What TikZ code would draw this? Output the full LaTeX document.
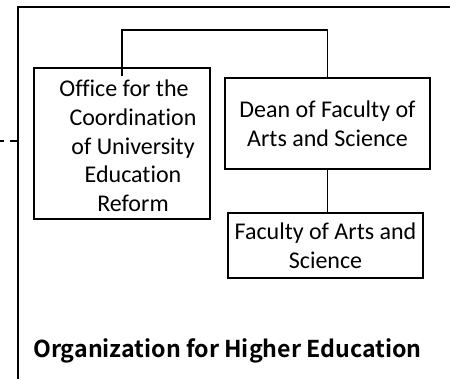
\documentclass[tikz,border=0pt]{standalone}
\usepackage{fontspec}
\setmainfont[Ligatures=NoCommon]{Carlito}
\newfontfamily\titlefont{Noto Sans CJK JP}[UprightFont=* Bold]

\begin{document}
\begin{tikzpicture}[x=0.75pt,y=-0.75pt,
  unitbox/.style={draw,line width=0.9pt,shape=rectangle,inner sep=0pt},
  unittext/.style={align=center,font=\fontsize{18pt}{21.5pt}\selectfont,inner sep=0pt},
  link/.style={line width=0.9pt}]
\useasboundingbox (0,0) rectangle (450,379);
\node[unitbox,minimum width=132pt,minimum height=113.25pt] (office) at (122,143.5) {};
\node[unittext] (officetxt) at (133,146) {Office for the\hspace*{13.5pt}\\Coordination\\of University\\Education\\Reform};
\node[unitbox,unittext,minimum width=153.75pt,minimum height=68.25pt] (dean) at (327.5,123.5) {Dean of Faculty of\\Arts and Science};
\node[unitbox,unittext,minimum width=146.25pt,minimum height=48.75pt] (faculty) at (325.5,245.5) {Faculty of Arts and\\Science};
\node[anchor=base west,inner sep=0pt,font=\titlefont\fontsize{17.4pt}{20pt}\selectfont] (org) at (33,357) {Organization for Higher Education};
% frame of the organization
\coordinate (c0) at (450,7);
\coordinate (c1) at (18,7);
\coordinate (c2) at (18,379);
\coordinate (top) at (0,30);
\draw[line width=1.3pt] (c0) -- (c1) -- (c2);
\draw[line width=1.3pt,dash pattern=on 6pt off 4.5pt] (18,141) coordinate (d0) -- (0,141) coordinate (d1);
\draw[link] ([yshift=-6.75pt]office.north) |- (top -| dean.north) -- (dean.north);
\draw[link] (dean.south) -- (dean.south |- faculty.north);
\end{tikzpicture}
\end{document}
